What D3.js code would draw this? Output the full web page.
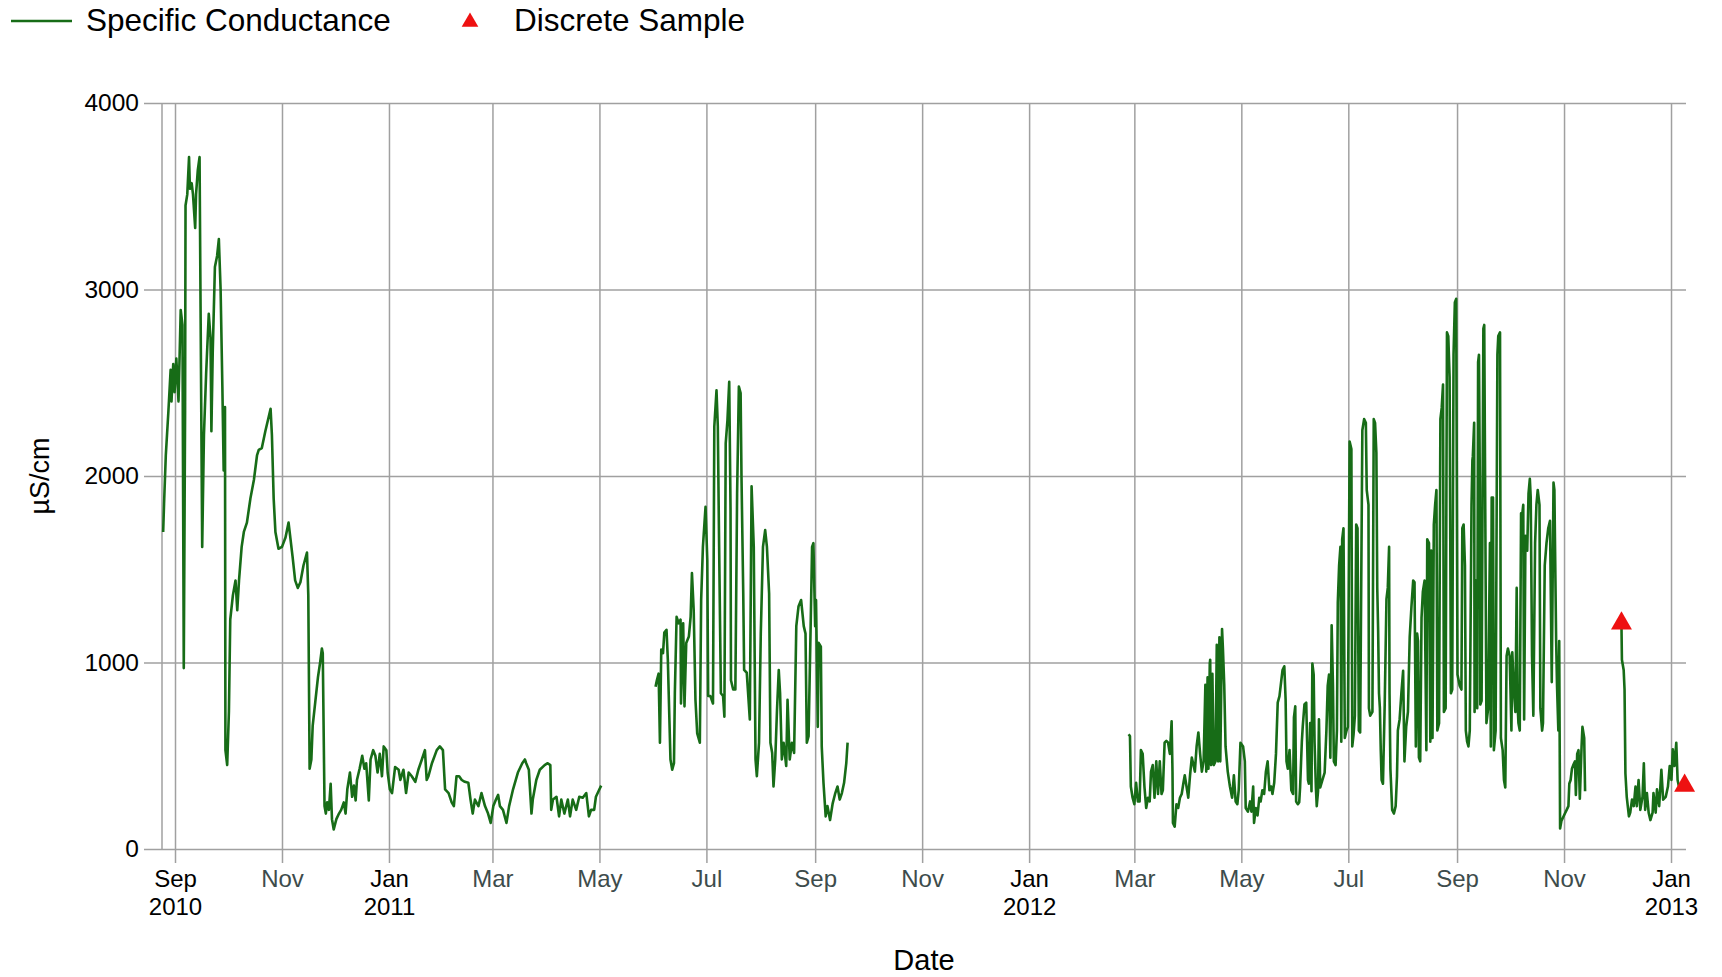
<!DOCTYPE html>
<html>
<head>
<meta charset="utf-8">
<script src="https://cdn.jsdelivr.net/npm/d3@7"></script>
<style>
  body { margin: 0; background: #fff; }
  text { font-family: "Liberation Sans", Arial, sans-serif; }
</style>
</head>
<body>
<svg id="chart" width="1722" height="977"></svg>
<script>

// valores (fecha-hora, uS/cm)
var yTicks = [0, 1000, 2000, 3000, 4000];

var seg2010 = [
  ["2010-08-25 06",1700],["2010-08-25 18",1850],["2010-08-26 18",2110],["2010-08-28 06",2350],
  ["2010-08-29 12",2570],["2010-08-30 00",2400],["2010-08-31 00",2600],["2010-08-31 18",2450],
  ["2010-09-01 18",2630],["2010-09-03 00",2400],["2010-09-04 06",2890],["2010-09-05 06",2810],
  ["2010-09-06 00",970],["2010-09-06 18",2350],["2010-09-07 00",3450],["2010-09-08 00",3510],
  ["2010-09-09 00",3710],["2010-09-09 12",3540],["2010-09-10 12",3570],["2010-09-11 06",3510],
  ["2010-09-12 12",3330],["2010-09-13 00",3510],["2010-09-14 00",3640],["2010-09-15 00",3710],
  ["2010-09-15 12",3000],["2010-09-16 12",1620],["2010-09-17 12",2220],["2010-09-18 18",2550],
  ["2010-09-20 06",2870],["2010-09-21 06",2740],["2010-09-21 18",2240],["2010-09-22 12",2660],
  ["2010-09-23 18",3120],["2010-09-25 00",3180],["2010-09-26 00",3270],["2010-09-27 00",3000],
  ["2010-09-28 00",2480],["2010-09-28 18",2030],["2010-09-29 12",2370],["2010-09-29 18",530],
  ["2010-09-30 18",450],["2010-10-01 18",740],["2010-10-02 12",1230],["2010-10-04 00",1360],
  ["2010-10-05 12",1440],["2010-10-06 12",1280],["2010-10-07 12",1440],["2010-10-09 00",1620],
  ["2010-10-10 06",1700],["2010-10-12 00",1750],["2010-10-14 00",1880],["2010-10-16 00",1980],
  ["2010-10-17 18",2110],["2010-10-18 18",2140],["2010-10-20 12",2150],["2010-10-22 12",2240],
  ["2010-10-24 12",2320],["2010-10-25 12",2360],["2010-10-26 06",2220],["2010-10-27 06",1880],
  ["2010-10-28 06",1700],["2010-10-30 00",1610],["2010-11-01 00",1620],["2010-11-03 00",1670],
  ["2010-11-04 18",1750],["2010-11-07 00",1570],["2010-11-08 12",1440],["2010-11-10 00",1400],
  ["2010-11-11 12",1430],["2010-11-13 06",1520],["2010-11-15 06",1590],["2010-11-16 00",1360],
  ["2010-11-16 18",430],["2010-11-17 18",480],["2010-11-18 12",660],["2010-11-20 00",790],
  ["2010-11-21 12",920],["2010-11-22 18",1000],["2010-11-23 18",1075],["2010-11-24 06",1050],
  ["2010-11-25 06",230],["2010-11-26 00",190],["2010-11-26 18",250],["2010-11-27 18",210],
  ["2010-11-28 18",350],["2010-11-29 12",160],["2010-11-30 12",105],["2010-12-02 00",160],
  ["2010-12-03 12",190],["2010-12-04 18",210],["2010-12-06 06",250],["2010-12-07 06",190],
  ["2010-12-08 06",320],["2010-12-09 18",410],["2010-12-11 00",280],["2010-12-12 00",340],
  ["2010-12-13 00",260],["2010-12-13 18",370],["2010-12-15 06",430],["2010-12-16 18",500],
  ["2010-12-18 00",430],["2010-12-19 00",460],["2010-12-20 12",260],["2010-12-21 12",480],
  ["2010-12-23 00",530],["2010-12-24 06",500],["2010-12-25 12",410],["2010-12-26 18",510],
  ["2010-12-28 00",390],["2010-12-29 00",550],["2010-12-30 12",530],["2010-12-31 06",410],
  ["2011-01-01 12",320],["2011-01-02 18",300],["2011-01-04 12",440],["2011-01-06 12",425],
  ["2011-01-07 12",370],["2011-01-09 06",425],["2011-01-10 18",300],["2011-01-12 06",410],
  ["2011-01-14 00",390],["2011-01-16 00",360],["2011-01-17 18",425],["2011-01-19 18",480],
  ["2011-01-21 12",530],["2011-01-22 12",370],["2011-01-23 12",390],["2011-01-25 12",460],
  ["2011-01-28 06",530],["2011-01-30 00",550],["2011-01-31 18",530],["2011-02-02 00",320],
  ["2011-02-04 00",300],["2011-02-05 18",250],["2011-02-07 00",230],["2011-02-08 12",390],
  ["2011-02-10 00",390],["2011-02-11 12",370],["2011-02-13 06",360],["2011-02-15 06",355],
  ["2011-02-16 12",265],["2011-02-17 18",190],["2011-02-19 00",265],["2011-02-21 00",230],
  ["2011-02-22 18",300],["2011-02-24 18",230],["2011-02-26 12",190],["2011-02-28 00",140],
  ["2011-03-01 12",230],["2011-03-03 00",265],["2011-03-04 06",290],["2011-03-05 06",230],
  ["2011-03-07 00",210],["2011-03-09 00",140],["2011-03-10 12",230],["2011-03-12 18",320],
  ["2011-03-15 12",410],["2011-03-18 00",460],["2011-03-19 12",480],["2011-03-20 06",460],
  ["2011-03-21 18",425],["2011-03-23 06",190],["2011-03-24 00",265],["2011-03-26 00",370],
  ["2011-03-28 00",425],["2011-03-30 18",450],["2011-04-01 12",460],["2011-04-03 00",450],
  ["2011-04-03 12",210],["2011-04-04 12",265],["2011-04-06 12",280],["2011-04-08 00",175],
  ["2011-04-09 06",265],["2011-04-11 00",190],["2011-04-13 00",265],["2011-04-14 06",175],
  ["2011-04-15 18",265],["2011-04-17 18",210],["2011-04-19 12",280],["2011-04-21 12",275],
  ["2011-04-23 12",300],["2011-04-25 00",175],["2011-04-26 06",210],["2011-04-28 00",210],
  ["2011-04-29 00",280],["2011-05-01 00",320],["2011-05-02 00",340]
];

var seg2011 = [
  ["2011-06-02 00",870],["2011-06-02 18",905],["2011-06-03 18",940],["2011-06-04 12",570],
  ["2011-06-05 06",1070],["2011-06-06 06",1050],["2011-06-07 00",1160],["2011-06-08 06",1175],
  ["2011-06-09 00",1015],["2011-06-09 18",745],["2011-06-10 12",480],["2011-06-11 12",425],
  ["2011-06-12 12",460],["2011-06-13 00",835],["2011-06-14 00",1245],["2011-06-15 06",1210],
  ["2011-06-16 06",1230],["2011-06-16 12",780],["2011-06-17 18",1210],["2011-06-18 12",765],
  ["2011-06-19 12",1105],["2011-06-21 00",1140],["2011-06-22 00",1245],["2011-06-22 18",1480],
  ["2011-06-23 18",1280],["2011-06-24 18",800],["2011-06-25 18",620],["2011-06-27 06",570],
  ["2011-06-28 00",1335],["2011-06-29 00",1620],["2011-06-30 12",1835],["2011-07-01 12",1550],
  ["2011-07-02 00",820],["2011-07-03 06",820],["2011-07-04 18",780],["2011-07-05 12",2265],
  ["2011-07-06 18",2460],["2011-07-07 12",2265],["2011-07-08 06",1620],["2011-07-09 06",835],
  ["2011-07-10 12",820],["2011-07-11 06",710],["2011-07-12 00",2175],["2011-07-13 00",2300],
  ["2011-07-14 00",2505],["2011-07-14 18",1820],["2011-07-15 00",905],["2011-07-16 06",855],
  ["2011-07-17 12",855],["2011-07-18 12",1905],["2011-07-19 12",2480],["2011-07-20 12",2445],
  ["2011-07-21 00",1995],["2011-07-22 00",1370],["2011-07-22 12",960],["2011-07-24 00",945],
  ["2011-07-25 18",695],["2011-07-26 18",1945],["2011-07-28 00",1620],["2011-07-29 00",480],
  ["2011-07-29 18",390],["2011-07-31 00",570],["2011-08-01 00",1155],["2011-08-02 06",1620],
  ["2011-08-03 12",1710],["2011-08-04 12",1620],["2011-08-05 18",1370],["2011-08-06 12",570],
  ["2011-08-07 12",515],["2011-08-08 06",335],["2011-08-09 06",480],["2011-08-10 06",745],
  ["2011-08-11 06",960],["2011-08-12 00",835],["2011-08-13 00",480],["2011-08-14 00",570],
  ["2011-08-15 12",445],["2011-08-16 06",800],["2011-08-17 12",480],["2011-08-18 18",570],
  ["2011-08-20 00",515],["2011-08-21 06",1195],["2011-08-22 12",1300],["2011-08-24 00",1335],
  ["2011-08-25 12",1195],["2011-08-26 12",1155],["2011-08-27 06",570],["2011-08-28 06",605],
  ["2011-08-29 12",1230],["2011-08-30 06",1620],["2011-08-31 00",1640],["2011-09-01 00",1195],
  ["2011-09-01 12",1335],["2011-09-02 12",655],["2011-09-03 00",1105],["2011-09-04 06",1085],
  ["2011-09-04 18",550],["2011-09-05 18",355],["2011-09-07 00",175],["2011-09-08 00",230],
  ["2011-09-09 12",155],["2011-09-11 00",245],["2011-09-12 12",300],["2011-09-13 18",335],
  ["2011-09-15 00",265],["2011-09-16 06",300],["2011-09-17 12",355],["2011-09-18 18",460],
  ["2011-09-19 12",570]
];

var seg2012 = [
  ["2012-02-26 18",615],["2012-02-27 12",605],["2012-02-28 00",335],["2012-02-29 00",275],
  ["2012-03-01 00",240],["2012-03-02 00",355],["2012-03-03 00",255],["2012-03-04 00",255],
  ["2012-03-04 18",530],["2012-03-05 18",510],["2012-03-06 18",335],["2012-03-07 18",220],
  ["2012-03-08 18",275],["2012-03-09 18",255],["2012-03-10 12",415],["2012-03-11 12",450],
  ["2012-03-12 12",275],["2012-03-13 12",470],["2012-03-14 12",295],["2012-03-15 12",470],
  ["2012-03-16 12",295],["2012-03-17 06",315],["2012-03-18 06",570],["2012-03-19 06",580],
  ["2012-03-20 06",570],["2012-03-21 06",510],["2012-03-22 06",685],["2012-03-22 18",415],
  ["2012-03-23 00",140],["2012-03-24 00",120],["2012-03-25 00",240],["2012-03-26 00",220],
  ["2012-03-27 00",275],["2012-03-28 00",295],["2012-03-29 00",355],["2012-03-29 18",395],
  ["2012-03-30 18",335],["2012-03-31 18",275],["2012-04-01 18",395],["2012-04-02 18",490],
  ["2012-04-03 18",450],["2012-04-04 12",415],["2012-04-05 12",550],["2012-04-06 12",625],
  ["2012-04-07 12",510],["2012-04-08 12",415],["2012-04-09 12",470],["2012-04-10 12",880],
  ["2012-04-11 00",415],["2012-04-11 18",920],["2012-04-12 06",430],["2012-04-13 00",995],
  ["2012-04-13 06",1015],["2012-04-13 18",450],["2012-04-14 12",940],["2012-04-15 06",450],
  ["2012-04-16 06",470],["2012-04-17 00",1095],["2012-04-17 18",470],["2012-04-18 12",1135],
  ["2012-04-19 00",470],["2012-04-20 00",1180],["2012-04-20 12",1075],["2012-04-21 06",880],
  ["2012-04-22 00",550],["2012-04-23 06",415],["2012-04-24 12",335],["2012-04-25 18",275],
  ["2012-04-26 18",395],["2012-04-27 18",255],["2012-04-28 18",240],["2012-04-29 12",315],
  ["2012-04-30 12",570],["2012-05-02 00",550],["2012-05-03 00",470],["2012-05-03 12",220],
  ["2012-05-04 18",200],["2012-05-06 00",255],["2012-05-06 18",200],["2012-05-07 18",335],
  ["2012-05-08 06",140],["2012-05-09 06",220],["2012-05-10 06",180],["2012-05-11 06",275],
  ["2012-05-12 00",255],["2012-05-13 00",315],["2012-05-14 00",295],["2012-05-15 00",415],
  ["2012-05-16 00",470],["2012-05-17 00",315],["2012-05-18 00",335],["2012-05-18 18",295],
  ["2012-05-19 18",355],["2012-05-20 18",510],["2012-05-21 18",785],["2012-05-22 18",820],
  ["2012-05-23 18",900],["2012-05-24 12",960],["2012-05-25 12",980],["2012-05-26 06",800],
  ["2012-05-26 18",470],["2012-05-27 12",430],["2012-05-28 12",530],["2012-05-29 12",315],
  ["2012-05-30 12",295],["2012-05-31 00",705],["2012-05-31 18",765],["2012-06-01 06",255],
  ["2012-06-02 06",240],["2012-06-03 00",250],["2012-06-03 12",330],["2012-06-04 12",575],
  ["2012-06-05 00",655],["2012-06-06 00",775],["2012-06-07 00",785],["2012-06-08 00",370],
  ["2012-06-08 12",350],["2012-06-09 06",675],["2012-06-10 00",310],["2012-06-10 12",995],
  ["2012-06-11 06",935],["2012-06-11 18",575],["2012-06-12 12",330],["2012-06-13 00",230],
  ["2012-06-13 18",310],["2012-06-14 06",695],["2012-06-15 00",330],["2012-06-16 06",370],
  ["2012-06-17 12",410],["2012-06-18 12",635],["2012-06-19 06",875],["2012-06-20 00",935],
  ["2012-06-20 18",490],["2012-06-21 12",1200],["2012-06-22 06",875],["2012-06-22 18",470],
  ["2012-06-23 18",450],["2012-06-24 12",635],["2012-06-25 00",1320],["2012-06-25 18",1520],
  ["2012-06-26 12",1620],["2012-06-27 00",575],["2012-06-27 12",1660],["2012-06-28 06",1720],
  ["2012-06-29 00",595],["2012-06-30 00",635],["2012-06-30 18",655],["2012-07-01 18",2185],
  ["2012-07-02 18",2145],["2012-07-03 06",550],["2012-07-04 00",615],["2012-07-04 18",715],
  ["2012-07-05 12",1740],["2012-07-06 06",1720],["2012-07-07 00",635],["2012-07-07 18",625],
  ["2012-07-09 00",2245],["2012-07-10 00",2305],["2012-07-11 00",2285],["2012-07-11 12",1925],
  ["2012-07-12 12",1845],["2012-07-12 18",755],["2012-07-13 12",715],["2012-07-14 18",735],
  ["2012-07-15 12",2305],["2012-07-16 06",2285],["2012-07-17 00",2125],["2012-07-17 12",1400],
  ["2012-07-18 00",1175],["2012-07-18 12",835],["2012-07-19 00",755],["2012-07-19 12",530],
  ["2012-07-20 00",370],["2012-07-20 18",350],["2012-07-21 18",775],["2012-07-22 18",1340],
  ["2012-07-23 12",1400],["2012-07-24 06",1620],["2012-07-24 12",835],["2012-07-25 00",430],
  ["2012-07-26 00",210],["2012-07-27 00",190],["2012-07-28 00",230],["2012-07-28 18",390],
  ["2012-07-29 06",635],["2012-07-30 06",695],["2012-07-31 06",835],["2012-08-01 06",955],
  ["2012-08-02 00",470],["2012-08-03 00",655],["2012-08-04 00",735],["2012-08-05 00",1135],
  ["2012-08-06 00",1300],["2012-08-07 00",1440],["2012-08-07 18",1430],["2012-08-08 12",550],
  ["2012-08-09 06",1155],["2012-08-09 18",1115],["2012-08-10 06",490],["2012-08-11 00",470],
  ["2012-08-11 18",1240],["2012-08-12 12",1380],["2012-08-13 12",1440],["2012-08-14 12",530],
  ["2012-08-15 00",1660],["2012-08-16 00",1640],["2012-08-16 18",575],["2012-08-17 06",1600],
  ["2012-08-18 00",595],["2012-08-18 18",1740],["2012-08-19 12",1845],["2012-08-20 06",1925],
  ["2012-08-20 18",635],["2012-08-21 18",675],["2012-08-22 12",2305],["2012-08-23 06",2365],
  ["2012-08-24 00",2490],["2012-08-24 12",735],["2012-08-25 12",755],["2012-08-26 06",2770],
  ["2012-08-27 00",2750],["2012-08-27 18",2530],["2012-08-28 12",835],["2012-08-29 06",855],
  ["2012-08-30 00",2650],["2012-08-30 18",2930],["2012-08-31 12",2950],["2012-09-01 06",935],
  ["2012-09-02 12",875],["2012-09-03 12",855],["2012-09-04 00",1720],["2012-09-04 18",1740],
  ["2012-09-05 12",1520],["2012-09-06 00",635],["2012-09-06 18",575],["2012-09-07 12",550],
  ["2012-09-08 06",635],["2012-09-09 06",1845],["2012-09-09 18",2085],["2012-09-10 00",2105],
  ["2012-09-10 18",2285],["2012-09-11 00",735],["2012-09-11 18",1440],["2012-09-12 12",755],
  ["2012-09-13 00",2610],["2012-09-13 12",2650],["2012-09-14 00",1945],["2012-09-14 06",775],
  ["2012-09-15 00",795],["2012-09-16 00",2790],["2012-09-16 12",2810],["2012-09-17 00",1965],
  ["2012-09-17 18",675],["2012-09-18 18",755],["2012-09-19 18",1640],["2012-09-20 06",550],
  ["2012-09-20 18",1885],["2012-09-21 12",1885],["2012-09-22 00",530],["2012-09-23 00",635],
  ["2012-09-24 00",2650],["2012-09-24 12",2750],["2012-09-25 12",2770],["2012-09-26 00",595],
  ["2012-09-27 00",530],["2012-09-27 18",370],["2012-09-28 12",330],["2012-09-29 06",1035],
  ["2012-09-30 00",1075],["2012-10-01 00",1035],["2012-10-02 00",635],["2012-10-02 12",1055],
  ["2012-10-03 12",835],["2012-10-04 06",735],["2012-10-05 00",1400],["2012-10-05 12",775],
  ["2012-10-06 00",675],["2012-10-06 18",635],["2012-10-07 12",1800],["2012-10-08 00",1780],
  ["2012-10-08 18",1845],["2012-10-09 06",695],["2012-10-10 00",1680],["2012-10-11 00",1600],
  ["2012-10-11 18",1905],["2012-10-12 12",1985],["2012-10-13 00",1885],["2012-10-13 18",1035],
  ["2012-10-14 12",715],["2012-10-15 12",1640],["2012-10-16 06",1845],["2012-10-17 00",1925],
  ["2012-10-18 00",1845],["2012-10-18 12",755],["2012-10-19 12",635],["2012-10-20 00",675],
  ["2012-10-21 00",1520],["2012-10-22 00",1640],["2012-10-23 00",1720],["2012-10-24 00",1760],
  ["2012-10-25 00",895],["2012-10-26 00",1965],["2012-10-26 12",1925],["2012-10-27 12",1115],
  ["2012-10-28 00",875],["2012-10-28 18",635],["2012-10-29 06",1115],["2012-10-29 18",110],
  ["2012-10-30 12",150],["2012-10-31 12",170],["2012-11-01 12",190],["2012-11-02 12",210],
  ["2012-11-03 12",230],["2012-11-04 00",350],["2012-11-04 18",370],["2012-11-05 12",430],
  ["2012-11-06 06",450],["2012-11-07 06",470],["2012-11-07 18",290],["2012-11-08 12",510],
  ["2012-11-09 06",530],["2012-11-10 00",270],["2012-11-11 00",550],["2012-11-11 12",655],
  ["2012-11-12 12",595],["2012-11-13 00",310]
];

var seg2013 = [
  ["2012-12-03 18",1195],["2012-12-04 00",1015],["2012-12-05 00",960],["2012-12-05 12",855],
  ["2012-12-06 00",405],["2012-12-06 18",280],["2012-12-08 00",175],["2012-12-08 18",195],
  ["2012-12-09 18",265],["2012-12-10 18",230],["2012-12-11 18",335],["2012-12-12 12",230],
  ["2012-12-13 12",370],["2012-12-14 12",210],["2012-12-15 18",280],["2012-12-16 12",460],
  ["2012-12-17 06",210],["2012-12-18 06",300],["2012-12-19 06",195],["2012-12-20 06",155],
  ["2012-12-21 12",195],["2012-12-22 00",300],["2012-12-23 06",195],["2012-12-24 00",320],
  ["2012-12-25 06",230],["2012-12-26 12",425],["2012-12-27 12",265],["2012-12-29 00",280],
  ["2012-12-30 06",335],["2012-12-31 06",445],["2013-01-01 06",370],["2013-01-02 00",535],
  ["2013-01-03 00",445],["2013-01-04 00",570],["2013-01-04 18",370],["2013-01-05 12",335]
];

var samples = [["2012-12-03 18",1210],["2013-01-08 18",340]];

var legendNames = ["Specific Conductance", "Discrete Sample"];

var parse = d3.timeParse("%Y-%m-%d %H");

var svg = d3.select("#chart"),
    plotLeft = 162, plotRight = 1686, plotTop = 103, plotBottom = 849,
    lineColor = "#176c17", gridColor = "#a0a0a0";

var xScale = d3.scaleTime()
    .domain([parse("2010-08-24 14"), parse("2013-01-09 13")])
    .range([plotLeft, plotRight]);
var yScale = d3.scaleLinear().domain([0, 4000]).range([plotBottom, plotTop]);

/* rejilla horizontal + etiquetas y */
var gy = svg.append("g").attr("transform", "translate(144,0)")
    .call(d3.axisLeft(yScale).tickValues(yTicks).tickSize(-(plotRight - 144)).tickPadding(5)
        .tickFormat(d3.format("d")));
gy.select(".domain").remove();
gy.selectAll("line").attr("stroke", gridColor).attr("stroke-width", 1.5);
gy.selectAll("text").attr("font-size", "24.5px").attr("fill", "#000");

/* rejilla vertical + etiquetas de fecha */
var fmtMonth = d3.timeFormat("%b"), fmtYear = d3.timeFormat("%Y");
var gx = svg.append("g").attr("transform", "translate(0," + (plotBottom + 14) + ")")
    .call(d3.axisBottom(xScale).ticks(d3.timeMonth.every(2)).tickSize(-(plotBottom + 14 - plotTop))
        .tickPadding(7).tickFormat(function(d){ return ""; }));
gx.select(".domain").remove();
gx.selectAll("line").attr("stroke", gridColor).attr("stroke-width", 1.5);
gx.selectAll(".tick text").each(function(d, i){
    var t = d3.select(this).attr("font-size", "24px");
    var withYear = (d.getMonth() === 0 || i === 0);
    t.attr("fill", withYear ? "#000" : "#3d4c4c");
    t.append("tspan").attr("x", 0).text(fmtMonth(d));
    if (withYear) t.append("tspan").attr("x", 0).attr("dy", "1.15em").text(fmtYear(d));
});

// borde izquierdo
svg.append("line")
    .attr("x1", plotLeft).attr("x2", plotLeft).attr("y1", plotTop).attr("y2", plotBottom)
    .attr("stroke", gridColor).attr("stroke-width", 1.5);

/* series */
var line = d3.line()
    .x(function(d){ return xScale(parse(d[0])); })
    .y(function(d){ return yScale(d[1]); });

[seg2010, seg2011, seg2012, seg2013].forEach(function(seg){
    svg.append("path")
        .datum(seg)
        .attr("d", line)
        .attr("fill", "none")
        .attr("stroke", lineColor)
        .attr("stroke-width", 2.6)
        .attr("stroke-linejoin", "round");
});

var tri = d3.symbol().type(d3.symbolTriangle).size(190);
svg.selectAll(".sample")
    .data(samples)
    .enter().append("path")
    .attr("class", "sample")
    .attr("d", tri)
    .attr("fill", "#ee1111")
    .attr("transform", function(d){ return "translate(" + xScale(parse(d[0])) + "," + yScale(d[1]) + ")"; });

/* leyenda */
svg.append("line").attr("x1", 11).attr("x2", 72).attr("y1", 21).attr("y2", 21)
    .attr("stroke", lineColor).attr("stroke-width", 2.4);
svg.append("text").attr("x", 86).attr("y", 20).attr("dy", "0.35em")
    .attr("font-size", "31.5px").text(legendNames[0]);
svg.append("path").attr("d", d3.symbol().type(d3.symbolTriangle).size(120))
    .attr("transform", "translate(470,22)").attr("fill", "#ee1111");
svg.append("text").attr("x", 514).attr("y", 20).attr("dy", "0.35em")
    .attr("font-size", "31.5px").text(legendNames[1]);

/* titulos de ejes */
svg.append("text")
    .attr("transform", "translate(40," + ((plotTop + plotBottom) / 2) + ") rotate(-90)")
    .attr("text-anchor", "middle").attr("dy", "0.35em")
    .attr("font-size", "27px")
    .text("µS/cm");

svg.append("text")
    .attr("x", (plotLeft + plotRight) / 2).attr("y", 960).attr("dy", "0.35em")
    .attr("text-anchor", "middle")
    .attr("font-size", "29px")
    .text("Date");

</script>
</body>
</html>
